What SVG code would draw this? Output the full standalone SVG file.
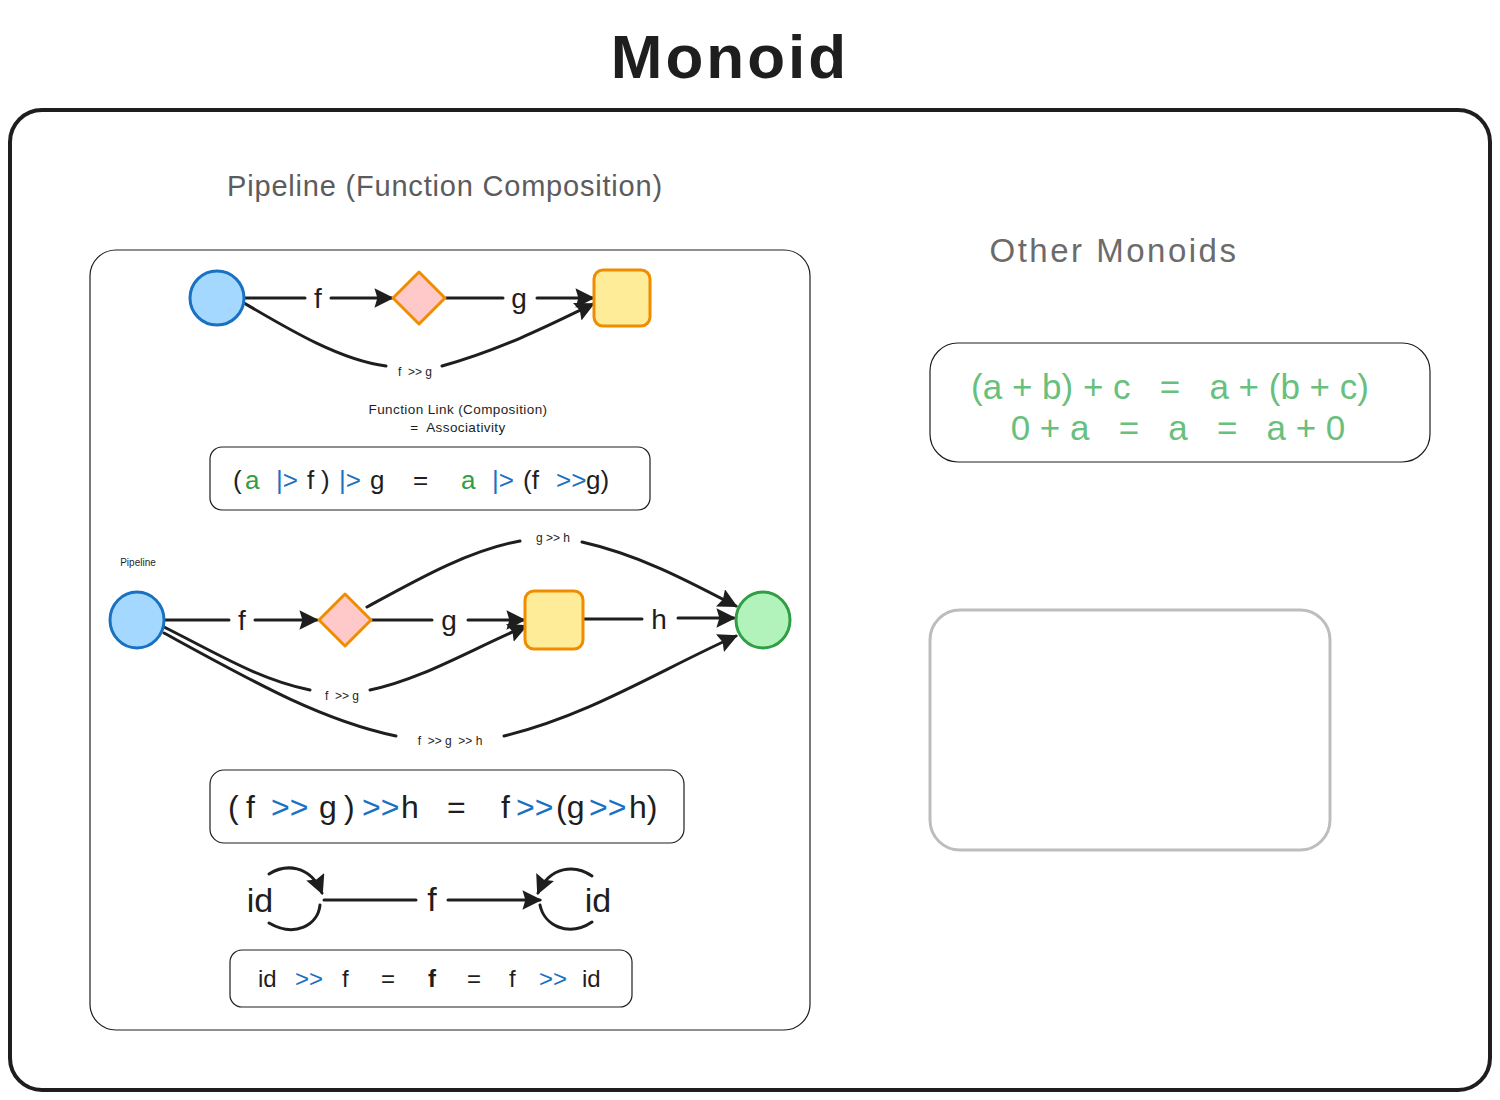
<svg xmlns="http://www.w3.org/2000/svg" width="1500" height="1100" viewBox="0 0 1500 1100">
<style>
.hand{font-family:"Liberation Sans","DejaVu Sans",sans-serif;}
.sans{font-family:"Liberation Sans",Arial,sans-serif;}
.box{fill:none;stroke:#1e1e1e;stroke-width:1.2;}
.edge{fill:none;stroke:#1e1e1e;stroke-width:3;stroke-linecap:round;}
.lbl{font-family:"Liberation Sans",Arial,sans-serif;fill:#1e1e1e;text-anchor:middle;}
.g{fill:#2f9e44;} .b{fill:#1971c2;} .k{fill:#1e1e1e;}
</style>
<defs>
<marker id="ah" viewBox="0 0 10 10" refX="9" refY="5" markerWidth="6.5" markerHeight="6.5" markerUnits="strokeWidth" orient="auto">
<path d="M0,0 L10,5 L0,10 L1.5,5 Z" fill="#1e1e1e"/>
</marker>
</defs>
<rect width="1500" height="1100" fill="#ffffff"/>

<g id="title"><text x="730" y="78" class="hand" font-size="62" font-weight="bold" letter-spacing="3" fill="#1e1e1e" text-anchor="middle">Monoid</text></g>
<g id="frame"><rect x="10" y="110" width="1480" height="980" rx="32" fill="none" stroke="#1e1e1e" stroke-width="4"/></g>
<g id="heading-pipeline"><text x="445" y="196" class="hand" font-size="29" letter-spacing="0.8" fill="#5c5c5c" text-anchor="middle">Pipeline (Function Composition)</text></g>
<g id="heading-other"><text x="1114" y="262" class="hand" font-size="33" letter-spacing="2.5" fill="#6b6b6b" text-anchor="middle">Other Monoids</text></g>

<g id="pipeline-panel"><rect x="90" y="250" width="720" height="780" rx="26" class="box"/></g>

<g id="other-formula">
<rect x="930" y="343" width="500" height="119" rx="28" class="box"/>
<text x="1170" y="399" class="sans" font-size="35" fill="#69bf7d" text-anchor="middle" xml:space="preserve">(a + b) + c   =   a + (b + c)</text>
<text x="1178" y="440" class="sans" font-size="35" fill="#69bf7d" text-anchor="middle" xml:space="preserve">0 + a   =   a   =   a + 0</text>
</g>
<g id="empty-box"><rect x="930" y="610" width="400" height="240" rx="30" fill="none" stroke="#bdbdbd" stroke-width="3"/></g>

<g id="connectors">
<!-- top row -->
<path class="edge" d="M244,298 L305,298 M331,298 L392,298" marker-end="url(#ah)"/>
<path class="edge" d="M446,298 L503,298 M537,298 L593,298" marker-end="url(#ah)"/>
<path class="edge" d="M244,303 C290,330 340,360 386,366 M442,366 C500,350 550,325 593,304" marker-end="url(#ah)"/>
<!-- second row -->
<path class="edge" d="M164,620 L229,620 M255,620 L317,620" marker-end="url(#ah)"/>
<path class="edge" d="M372,620 L432,620 M468,620 L524,620" marker-end="url(#ah)"/>
<path class="edge" d="M583,619 L642,619 M678,618 L734,618" marker-end="url(#ah)"/>
<path class="edge" d="M367,607 C420,578 470,550 520,541 M582,542 C640,555 690,582 736,606" marker-end="url(#ah)"/>
<path class="edge" d="M164,627 C220,655 260,680 310,690 M370,690 C420,680 470,650 526,626" marker-end="url(#ah)"/>
<path class="edge" d="M164,633 C250,680 320,720 396,736 M504,736 C590,715 660,670 736,636" marker-end="url(#ah)"/>
<!-- identity -->
<path class="edge" d="M269,874 C285,864 310,864 322,893" marker-end="url(#ah)"/>
<path class="edge" d="M320,905 C318,925 295,938 269,923"/>
<path class="edge" d="M324,900 L416,900 M448,900 L540,900" marker-end="url(#ah)"/>
<path class="edge" d="M592,876 C575,864 550,866 538,893" marker-end="url(#ah)"/>
<path class="edge" d="M540,905 C544,925 568,938 592,922"/>
</g>

<g id="edge-labels">
<text x="318" y="308" class="lbl" font-size="28">f</text>
<text x="519" y="308" class="lbl" font-size="28">g</text>
<text x="415" y="376" class="lbl" font-size="12" xml:space="preserve">f  &gt;&gt; g</text>
<text x="242" y="630" class="lbl" font-size="28">f</text>
<text x="449" y="630" class="lbl" font-size="28">g</text>
<text x="659" y="629" class="lbl" font-size="28">h</text>
<text x="553" y="542" class="lbl" font-size="12">g &gt;&gt; h</text>
<text x="342" y="700" class="lbl" font-size="12" xml:space="preserve">f  &gt;&gt; g</text>
<text x="450" y="745" class="lbl" font-size="12" xml:space="preserve">f  &gt;&gt; g  &gt;&gt; h</text>
<text x="432" y="911" class="lbl" font-size="34">f</text>
</g>

<g id="node-a1"><circle cx="217" cy="298" r="27" fill="#a5d8ff" stroke="#1971c2" stroke-width="3"/></g>
<g id="node-b1"><path d="M419,272 L445,298 L419,324 L393,298 Z" fill="#ffc9c9" stroke="#f08c00" stroke-width="3" stroke-linejoin="round"/></g>
<g id="node-c1"><rect x="594" y="270" width="56" height="56" rx="9" fill="#ffec99" stroke="#f08c00" stroke-width="3"/></g>

<g id="assoc-note">
<text x="458" y="414" class="hand" font-size="13.5" letter-spacing="0.4" fill="#1e1e1e" text-anchor="middle">Function Link (Composition)</text>
<text x="458" y="432" class="hand" font-size="13.5" letter-spacing="0.4" fill="#1e1e1e" text-anchor="middle" xml:space="preserve">=  Associativity</text>
</g>

<g id="formula-pipe">
<rect x="210" y="447" width="440" height="63" rx="12" class="box"/>
<text y="489" class="sans" font-size="26">
<tspan x="233" class="k">(</tspan><tspan x="245" class="g">a</tspan><tspan x="276" class="b">|&gt;</tspan><tspan x="307" class="k">f</tspan><tspan x="321" class="k">)</tspan><tspan x="339" class="b">|&gt;</tspan><tspan x="370" class="k">g</tspan><tspan x="413" class="k">=</tspan><tspan x="461" class="g">a</tspan><tspan x="492" class="b">|&gt;</tspan><tspan x="523" class="k">(f</tspan><tspan x="556" class="b">&gt;&gt;</tspan><tspan x="586" class="k">g)</tspan>
</text>
</g>

<g id="pipeline-label"><text x="138" y="566" class="hand" font-size="10" fill="#1e1e1e" text-anchor="middle">Pipeline</text></g>

<g id="node-a2"><ellipse cx="137" cy="620" rx="27" ry="28" fill="#a5d8ff" stroke="#1971c2" stroke-width="3"/></g>
<g id="node-b2"><path d="M345,594 L371,620 L345,646 L319,620 Z" fill="#ffc9c9" stroke="#f08c00" stroke-width="3" stroke-linejoin="round"/></g>
<g id="node-c2"><rect x="525" y="591" width="58" height="58" rx="9" fill="#ffec99" stroke="#f08c00" stroke-width="3"/></g>
<g id="node-d2"><ellipse cx="763" cy="620" rx="27" ry="28" fill="#b2f2bb" stroke="#2f9e44" stroke-width="3"/></g>

<g id="formula-compose">
<rect x="210" y="770" width="474" height="73" rx="14" class="box"/>
<text y="818" class="sans" font-size="32">
<tspan x="228" class="k">(</tspan><tspan x="246" class="k">f</tspan><tspan x="271" class="b">&gt;&gt;</tspan><tspan x="319" class="k">g</tspan><tspan x="344" class="k">)</tspan><tspan x="362" class="b">&gt;&gt;</tspan><tspan x="401" class="k">h</tspan><tspan x="447" class="k">=</tspan><tspan x="501" class="k">f</tspan><tspan x="516" class="b">&gt;&gt;</tspan><tspan x="556" class="k">(g</tspan><tspan x="589" class="b">&gt;&gt;</tspan><tspan x="629" class="k">h)</tspan>
</text>
</g>

<g id="node-id-left"><text x="260" y="912" class="lbl" font-size="34">id</text></g>
<g id="node-id-right"><text x="598" y="912" class="lbl" font-size="34">id</text></g>

<g id="formula-identity">
<rect x="230" y="950" width="402" height="57" rx="12" class="box"/>
<text y="987" class="sans" font-size="24">
<tspan x="258" class="k">id</tspan><tspan x="295" class="b">&gt;&gt;</tspan><tspan x="342" class="k">f</tspan><tspan x="381" class="k">=</tspan><tspan x="428" class="k" font-weight="bold">f</tspan><tspan x="467" class="k">=</tspan><tspan x="509" class="k">f</tspan><tspan x="539" class="b">&gt;&gt;</tspan><tspan x="582" class="k">id</tspan>
</text>
</g>
</svg>
